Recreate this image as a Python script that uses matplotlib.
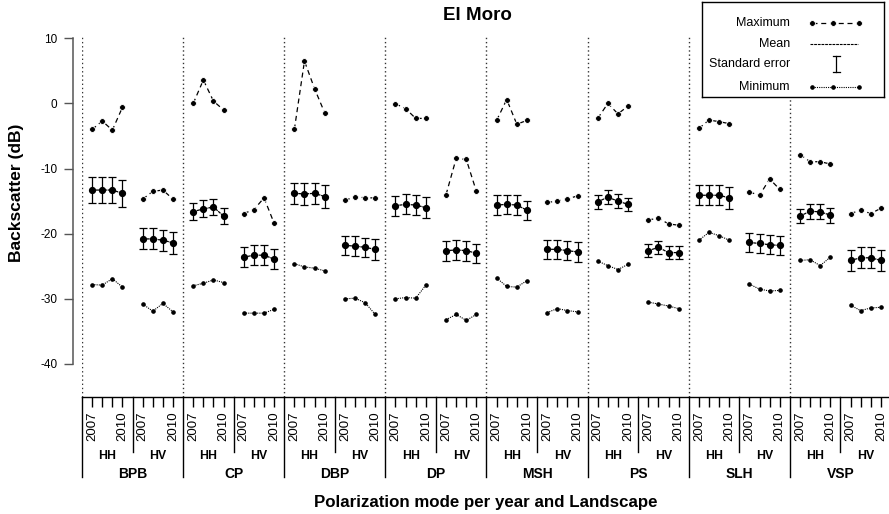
import matplotlib
matplotlib.use("Agg")
import matplotlib.pyplot as plt
from matplotlib.transforms import blended_transform_factory
import numpy as np

plt.rcParams['font.family'] = ['Liberation Sans', 'DejaVu Sans']

# ---------------- data ----------------
landscapes = ['BPB', 'CP', 'DBP', 'DP', 'MSH', 'PS', 'SLH', 'VSP']
pols = ['HH', 'HV']
years = ['2007', '2008', '2009', '2010']
year_labels = ['2007', '', '', '2010']

max_hh = [[-4.0, -2.7, -4.1, -0.6], [0.0, 3.6, 0.35, -1.0], [-4.0, 6.5, 2.25, -1.45],
          [-0.05, -0.8, -2.3, -2.3], [-2.6, 0.6, -3.2, -2.6], [-2.3, 0.0, -1.6, -0.4],
          [-3.85, -2.55, -2.8, -3.1], [-7.85, -8.95, -8.95, -9.3]]
max_hv = [[-14.7, -13.5, -13.3, -14.7], [-16.9, -16.3, -14.5, -18.4], [-14.9, -14.3, -14.5, -14.5],
          [-14.0, -8.45, -8.6, -13.5], [-15.2, -15.0, -14.65, -14.2], [-17.9, -17.6, -18.5, -18.7],
          [-13.6, -14.1, -11.6, -13.2], [-16.9, -16.4, -16.9, -16.1]]
mean_hh = [[-13.3, -13.3, -13.3, -13.8], [-16.6, -16.2, -15.9, -17.3], [-13.8, -13.9, -13.8, -14.3],
           [-15.7, -15.5, -15.6, -16.0], [-15.6, -15.5, -15.6, -16.4], [-15.1, -14.4, -15.0, -15.5],
           [-14.1, -14.1, -14.1, -14.5], [-17.3, -16.55, -16.65, -17.15]]
mean_hv = [[-20.8, -20.8, -21.0, -21.4], [-23.6, -23.3, -23.3, -23.9], [-21.8, -21.9, -22.1, -22.4],
           [-22.6, -22.5, -22.6, -23.0], [-22.4, -22.4, -22.6, -22.8], [-22.6, -22.1, -22.9, -22.9],
           [-21.35, -21.5, -21.7, -21.8], [-24.1, -23.7, -23.7, -24.1]]
se_hh = [[1.95, 1.95, 1.95, 2.05], [1.35, 1.3, 1.2, 1.25], [1.65, 1.65, 1.65, 1.8],
         [1.55, 1.55, 1.55, 1.6], [1.5, 1.5, 1.5, 1.45], [1.1, 1.05, 1.1, 1.05],
         [1.55, 1.55, 1.55, 1.65], [1.1, 1.15, 1.15, 1.15]]
se_hv = [[1.6, 1.6, 1.6, 1.7], [1.5, 1.5, 1.5, 1.5], [1.5, 1.5, 1.5, 1.6],
         [1.55, 1.55, 1.55, 1.45], [1.5, 1.5, 1.5, 1.5], [1.0, 1.0, 1.0, 1.0],
         [1.45, 1.45, 1.45, 1.5], [1.6, 1.6, 1.6, 1.6]]
min_hh = [[-27.8, -27.9, -26.9, -28.2], [-28.0, -27.6, -27.1, -27.5], [-24.6, -25.1, -25.3, -25.7],
          [-30.0, -29.8, -29.9, -27.9], [-26.8, -28.1, -28.2, -27.2], [-24.2, -24.9, -25.5, -24.7],
          [-21.0, -19.8, -20.3, -21.0], [-24.1, -24.0, -24.9, -23.6]]
min_hv = [[-30.8, -31.9, -30.7, -32.0], [-32.2, -32.2, -32.2, -31.6], [-30.0, -29.9, -30.6, -32.4],
          [-33.2, -32.4, -33.3, -32.4], [-32.1, -31.5, -31.8, -32.0], [-30.5, -30.8, -31.1, -31.5],
          [-27.75, -28.5, -28.8, -28.7], [-31.0, -31.8, -31.4, -31.3]]

yticks = [10, 0, -10, -20, -30, -40]

# ---------------- figure ----------------
W, H = 889, 514
fig = plt.figure(figsize=(W / 100, H / 100), dpi=100)
ax_left, ax_right, ax_top, ax_bot = 82, 891, 36, 397
ax = fig.add_axes([ax_left / W, 1 - ax_bot / H, (ax_right - ax_left) / W, (ax_bot - ax_top) / H])

n_g = len(landscapes)
grp_w = 10
ax.set_xlim(0, n_g * grp_w)
ax.set_ylim(-45.07, 10.35)

series = {'HH': (max_hh, mean_hh, se_hh, min_hh), 'HV': (max_hv, mean_hv, se_hv, min_hv)}
all_x, all_lab = [], []
for g in range(n_g):
    for p, pol in enumerate(pols):
        xs = g * grp_w + 1 + p * 5 + np.arange(len(years))
        mx, mn, se, mi = (s[g] for s in series[pol])
        ax.plot(xs, mx, color='black', lw=0.9, ls=(0, (4, 3)), marker='o', ms=4.2,
                mfc='black', mec='white', mew=0.6)
        ax.errorbar(xs, mn, yerr=se, color='black', lw=0.9, ls=(0, (2.5, 0.6)), marker='o',
                    ms=4.2, mfc='black', mec='black', capsize=2.6, capthick=0.9, elinewidth=0.9)
        ax.plot(xs, mi, color='black', lw=0.8, ls=(0, (1, 1)), marker='o', ms=2.3,
                mfc='black', mec='black')
        all_x.extend(xs)
        all_lab.extend(year_labels)

for g in range(n_g):
    ax.axvline(g * grp_w, color='#333333', lw=1.0, ls=(0, (1, 2)), zorder=0)

# spines
for s in ['top', 'right']:
    ax.spines[s].set_visible(False)
ax.spines['left'].set_position(('outward', 6.5))
ax.spines['left'].set_bounds(-40, 10)
ax.spines['left'].set_color('#555555')
ax.spines['left'].set_linewidth(1.1)
ax.spines['bottom'].set_color('black')
ax.spines['bottom'].set_linewidth(1.0)

ax.set_yticks(yticks)
ax.set_yticklabels([str(v) for v in yticks], fontsize=8.5)
ax.tick_params(axis='y', length=6.8, width=1.0, color='#555555', pad=4.3)

ax.set_xticks(all_x)
ax.set_xticklabels(all_lab, rotation=90, fontsize=9.5)
ax.tick_params(axis='x', length=7.2, width=1.0, color='black', pad=3.4)

# hierarchical x-axis
trans = blended_transform_factory(ax.transData, ax.transAxes)
axh = ax_bot - ax_top
def yfrac(py):
    return (ax_bot - py) / axh

for g in range(n_g + 1):
    ax.plot([g * grp_w, g * grp_w], [0, yfrac(477)], color='black', lw=1.0,
            transform=trans, clip_on=False)
for g in range(n_g):
    ax.plot([g * grp_w + 5, g * grp_w + 5], [0, yfrac(452)], color='black', lw=1.0,
            transform=trans, clip_on=False)
    for p, pol in enumerate(pols):
        ax.text(g * grp_w + 2.5 + p * 5, yfrac(456), pol, transform=trans, ha='center',
                va='center', fontsize=8.8, fontweight='bold')
    ax.text(g * grp_w + 5, yfrac(474), landscapes[g], transform=trans, ha='center',
            va='center', fontsize=10, fontweight='bold')

fig.text(486 / W, 1 - 502 / H, 'Polarization mode per year and Landscape', ha='center',
         va='center', fontsize=12.2, fontweight='bold')
fig.text(16.5 / W, 1 - 193 / H, 'Backscatter (dB)', ha='center', va='center', rotation=90,
         fontsize=12.5, fontweight='bold')
fig.text(477 / W, 1 - 15 / H, 'El Moro', ha='center', va='center', fontsize=13.5,
         fontweight='bold')

# legend (drawn manually in pixel coordinates)
lx0, ly0, lx1, ly1 = 702, 2, 884, 97
lax = fig.add_axes([lx0 / W, 1 - ly1 / H, (lx1 - lx0) / W, (ly1 - ly0) / H])
lax.set_xlim(0, lx1 - lx0)
lax.set_ylim(ly1 - ly0, 0)
lax.set_xticks([])
lax.set_yticks([])
for s in lax.spines.values():
    s.set_linewidth(1.0)
    s.set_color('black')
rows = [21, 42, 62, 85]
names = ['Maximum', 'Mean', 'Standard error', 'Minimum']
for r, n in zip(rows, names):
    lax.text(88, r, n, ha='right', va='center', fontsize=9)
sx = [110, 131, 157]
lax.plot(sx, [rows[0]] * 3, color='black', lw=0.9, ls=(0, (4, 3)), marker='o', ms=4.2,
         mfc='black', mec='white', mew=0.6)
lax.plot([108, 156], [rows[1]] * 2, color='black', lw=0.8, ls=(0, (2.5, 0.8)))
lax.plot([134, 134], [rows[2] - 8, rows[2] + 8], color='black', lw=0.9)
lax.plot([130.5, 137.5], [rows[2] - 8] * 2, color='black', lw=0.9)
lax.plot([130.5, 137.5], [rows[2] + 8] * 2, color='black', lw=0.9)
lax.plot(sx, [rows[3]] * 3, color='black', lw=0.8, ls=(0, (1, 1)), marker='o', ms=2.3,
         mfc='black', mec='black')

fig.savefig('out.png', dpi=100)
